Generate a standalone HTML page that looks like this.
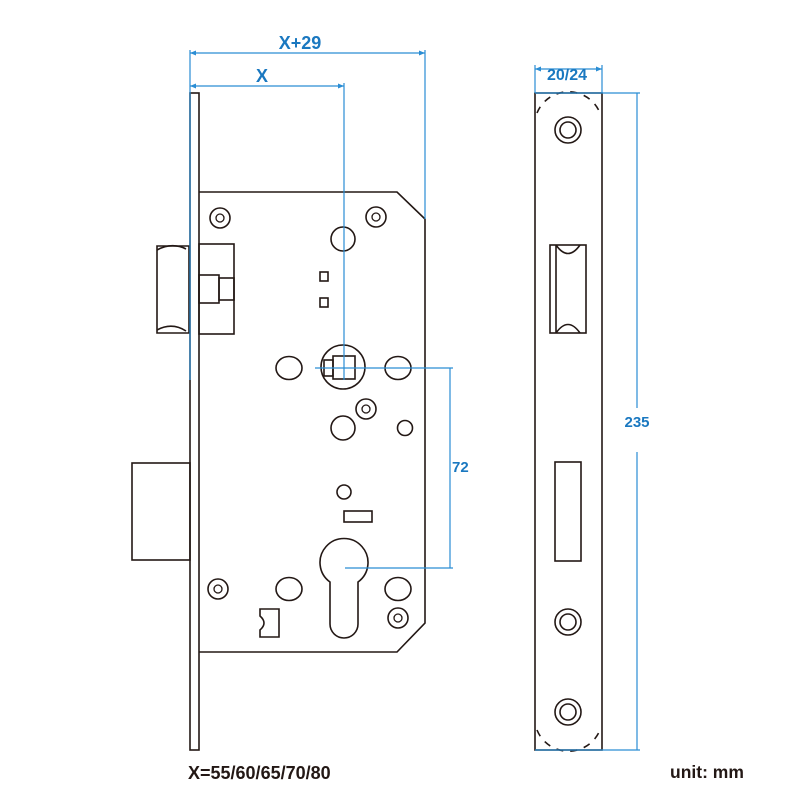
<!DOCTYPE html>
<html><head><meta charset="utf-8"><style>
html,body{margin:0;padding:0;background:#fff}
svg{display:block}
text{font-family:"Liberation Sans",sans-serif;font-weight:bold}
</style></head><body>
<svg width="800" height="799" viewBox="0 0 800 799" xmlns="http://www.w3.org/2000/svg">
<g fill="none" stroke="#231815" stroke-width="1.6">
<rect x="190" y="93" width="9" height="657"/>
<path d="M199 192 H397 L425 219 V623 L397 652 H199"/>
<path d="M157 246 H189 V333 H157 Z"/>
<path d="M157 250 Q172 242 186 249" />
<path d="M157 330 Q172 322 186 331" />
<rect x="199" y="244" width="35" height="90"/>
<rect x="199" y="275" width="20" height="28"/>
<rect x="219" y="278" width="15" height="22"/>
<rect x="132" y="463" width="58" height="97"/>
<g>
<circle cx="220" cy="218" r="10"/><circle cx="376" cy="217" r="10"/>
<circle cx="366" cy="409" r="10"/><circle cx="218" cy="589" r="10"/>
<circle cx="398" cy="618" r="10"/>
</g>
<g stroke-width="1.3">
<circle cx="220" cy="218" r="4"/><circle cx="376" cy="217" r="4"/>
<circle cx="366" cy="409" r="4"/><circle cx="218" cy="589" r="4"/>
<circle cx="398" cy="618" r="4"/>
</g>
<circle cx="343" cy="239" r="12"/>
<rect x="320" y="272" width="8" height="9"/>
<rect x="320" y="298" width="8" height="9"/>
<circle cx="343" cy="367" r="22"/>
<rect x="333" y="356" width="22" height="23"/>
<rect x="324" y="360" width="9" height="16"/>
<ellipse cx="289" cy="368" rx="13" ry="11.5"/>
<ellipse cx="398" cy="368" rx="13" ry="11.5"/>
<circle cx="343" cy="428" r="12"/>
<circle cx="405" cy="428" r="7.5"/>
<circle cx="344" cy="492" r="7"/>
<rect x="344" y="511" width="28" height="11"/>
<path d="M330 582 A24 24 0 1 1 358 582 V624 A14 14 0 0 1 330 624 Z"/>
<ellipse cx="289" cy="589" rx="13" ry="11.5"/>
<ellipse cx="398" cy="589" rx="13" ry="11.5"/>
<path d="M260 609 H279 V637 H260 V630 Q268 623 260 616 Z"/>
<rect x="535" y="93" width="67" height="657"/>
<circle cx="568" cy="130" r="13"/><circle cx="568" cy="130" r="8"/>
<circle cx="568" cy="622" r="13"/><circle cx="568" cy="622" r="8"/>
<circle cx="568" cy="712" r="13"/><circle cx="568" cy="712" r="8"/>
<rect x="550" y="245" width="36" height="88"/>
<path d="M556 245 V333 M556 245 Q568 262 580 245 M556 333 Q568 316 580 333"/>
<rect x="555" y="462" width="26" height="99"/>
<path d="M537 113 A34 34 0 0 1 600 113" stroke-dasharray="7 7"/>
<path d="M537 730 A34 34 0 0 0 600 730" stroke-dasharray="7 7"/>
</g>
<g stroke="#2a8dd4" stroke-width="1.2" fill="none">
<path d="M190 50 V380 M425 50 V219 M190 53 H425 M190 86 H344 M344 83 V380"/>
<path d="M315 368 H453 M345 568 H453 M450 368 V568"/>
<path d="M535 65 V93 M602 65 V93 M535 69 H602 M535 93 H640 M637 93 V408 M637 452 V750 M535 750 H640"/>
</g>
<g fill="#2a8dd4">
<path d="M190 53 l6 -2.5 v5z M425 53 l-6 -2.5 v5z M190 86 l6 -2.5 v5z M344 86 l-6 -2.5 v5z M535 69 l6 -2.5 v5z M602 69 l-6 -2.5 v5z"/>
</g>
<g fill="#1a78c0">
<text x="300" y="49" text-anchor="middle" font-size="18">X+29</text>
<text x="262" y="82" text-anchor="middle" font-size="18">X</text>
<text x="567" y="80" text-anchor="middle" font-size="16">20/24</text>
<text x="637" y="427" text-anchor="middle" font-size="15">235</text>
<text x="452" y="472" font-size="15">72</text>
</g>
<g fill="#231815">
<text x="188" y="779" font-size="18">X=55/60/65/70/80</text>
<text x="670" y="778" font-size="17.5">unit: mm</text>
</g>
</svg>
</body></html>
